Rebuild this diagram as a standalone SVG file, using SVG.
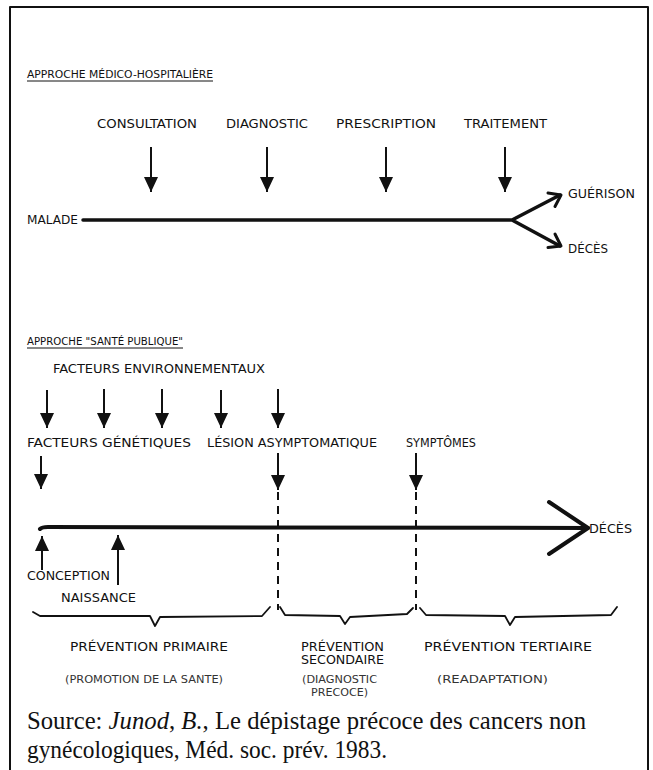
<svg xmlns="http://www.w3.org/2000/svg" width="653" height="770" viewBox="0 0 653 770">
<style>
.t{font-family:"DejaVu Sans Condensed","DejaVu Sans",sans-serif;font-size:11.5px;fill:#111}
.h{font-family:"DejaVu Sans Condensed","DejaVu Sans",sans-serif;font-size:10.5px;fill:#111}
.g{font-family:"DejaVu Sans Condensed","DejaVu Sans",sans-serif;font-size:10.5px;fill:#333}
.s{font-family:"Liberation Serif","Times New Roman",serif;font-size:24.5px;fill:#111}
.ln{stroke:#111;fill:none;stroke-linecap:round;stroke-linejoin:round}
.ar{stroke:#111;stroke-width:2;fill:none}
.ds{stroke:#111;stroke-width:2;fill:none;stroke-dasharray:8 6}
.ul{stroke:#111;stroke-width:1}
</style>
<defs>
<marker id="ah" markerUnits="userSpaceOnUse" markerWidth="15" markerHeight="15" viewBox="0 -7.5 15 15" refX="15" refY="0" orient="auto">
<path d="M0,-7 L15,0 L0,7 Z" fill="#111"/>
</marker>
</defs>
<rect width="653" height="770" fill="#fff"/>
<g id="frame" class="ln" stroke-width="2">
<path d="M10 770 L10 7 L648 7 L648 770"/>
</g>

<g id="heading1">
<text class="h" x="27" y="78" textLength="186" lengthAdjust="spacingAndGlyphs">APPROCHE MÉDICO-HOSPITALIÈRE</text>
<line class="ul" x1="27" y1="81" x2="213" y2="81"/>
</g>
<g id="consultation"><text class="t" x="97" y="128" textLength="100" lengthAdjust="spacingAndGlyphs">CONSULTATION</text></g>
<g id="diagnostic"><text class="t" x="226" y="128" textLength="82" lengthAdjust="spacingAndGlyphs">DIAGNOSTIC</text></g>
<g id="prescription"><text class="t" x="336" y="128" textLength="100" lengthAdjust="spacingAndGlyphs">PRESCRIPTION</text></g>
<g id="traitement"><text class="t" x="464" y="128" textLength="83" lengthAdjust="spacingAndGlyphs">TRAITEMENT</text></g>
<g id="malade"><text class="t" x="27" y="224" textLength="51" lengthAdjust="spacingAndGlyphs">MALADE</text></g>
<g id="guerison"><text class="t" x="568" y="198" textLength="67" lengthAdjust="spacingAndGlyphs">GUÉRISON</text></g>
<g id="deces1"><text class="t" x="568" y="253" textLength="40" lengthAdjust="spacingAndGlyphs">DÉCÈS</text></g>

<g id="heading2">
<text class="h" x="27" y="345" textLength="156" lengthAdjust="spacingAndGlyphs">APPROCHE "SANTÉ PUBLIQUE"</text>
<line class="ul" x1="27" y1="348" x2="183" y2="348"/>
</g>
<g id="env"><text class="t" x="53" y="373" textLength="212" lengthAdjust="spacingAndGlyphs">FACTEURS ENVIRONNEMENTAUX</text></g>
<g id="genetiques"><text class="t" x="27" y="447" textLength="164" lengthAdjust="spacingAndGlyphs">FACTEURS GÉNÉTIQUES</text></g>
<g id="lesion"><text class="t" x="207" y="447" textLength="170" lengthAdjust="spacingAndGlyphs">LÉSION ASYMPTOMATIQUE</text></g>
<g id="symptomes"><text class="t" x="406" y="447" textLength="70" lengthAdjust="spacingAndGlyphs">SYMPTÔMES</text></g>
<g id="deces2"><text class="t" x="589" y="533" textLength="43" lengthAdjust="spacingAndGlyphs">DÉCÈS</text></g>
<g id="conception"><text class="t" x="27" y="580" textLength="83" lengthAdjust="spacingAndGlyphs">CONCEPTION</text></g>
<g id="naissance"><text class="t" x="61" y="602" textLength="75" lengthAdjust="spacingAndGlyphs">NAISSANCE</text></g>

<g id="prim">
<text class="t" x="70" y="651" textLength="158" lengthAdjust="spacingAndGlyphs">PRÉVENTION PRIMAIRE</text>
<text class="g" x="65" y="683" textLength="158" lengthAdjust="spacingAndGlyphs">(PROMOTION DE LA SANTE)</text>
</g>
<g id="sec">
<text class="t" x="301" y="651" textLength="83" lengthAdjust="spacingAndGlyphs">PRÉVENTION</text>
<text class="t" x="301" y="664" textLength="83" lengthAdjust="spacingAndGlyphs">SECONDAIRE</text>
<text class="g" x="302" y="683" textLength="75" lengthAdjust="spacingAndGlyphs">(DIAGNOSTIC</text>
<text class="g" x="311" y="696" textLength="57" lengthAdjust="spacingAndGlyphs">PRECOCE)</text>
</g>
<g id="tert">
<text class="t" x="424" y="651" textLength="168" lengthAdjust="spacingAndGlyphs">PRÉVENTION TERTIAIRE</text>
<text class="g" x="437" y="683" textLength="111" lengthAdjust="spacingAndGlyphs">(READAPTATION)</text>
</g>
<g id="source">
<text class="s" x="27" y="729" textLength="559" lengthAdjust="spacingAndGlyphs">Source: <tspan font-style="italic">Junod</tspan>, <tspan font-style="italic">B.</tspan>, Le dépistage précoce des cancers non</text>
<text class="s" x="27" y="758" textLength="360" lengthAdjust="spacingAndGlyphs">gynécologiques, Méd. soc. prév. 1983.</text>
</g>

<g id="connectors">
<g class="ar" marker-end="url(#ah)">
<line x1="151" y1="147" x2="151" y2="192"/>
<line x1="267" y1="147" x2="267" y2="192"/>
<line x1="386" y1="147" x2="386" y2="192"/>
<line x1="505" y1="147" x2="505" y2="192"/>
<line x1="47" y1="390" x2="47" y2="428"/>
<line x1="104" y1="389" x2="104" y2="428"/>
<line x1="162" y1="389" x2="162" y2="428"/>
<line x1="221" y1="390" x2="221" y2="428"/>
<line x1="278" y1="389" x2="278" y2="428"/>
<line x1="41" y1="456" x2="41" y2="489"/>
<line x1="278" y1="453" x2="278" y2="490"/>
<line x1="416" y1="453" x2="416" y2="490"/>
<line x1="42" y1="570" x2="42" y2="536"/>
<line x1="118" y1="585" x2="118" y2="535"/>
</g>
<line class="ds" x1="278" y1="492" x2="278" y2="610"/>
<line class="ds" x1="416" y1="492" x2="416" y2="610"/>
<path class="ln" stroke-width="3.5" d="M83 220 L512 220 L560 195 M512 220 L560 246"/>
<path class="ln" stroke-width="3" d="M548 193 L561 195 L555 206.5 M555 234 L561 246 L548 247.6"/>
<path class="ln" stroke-width="4" d="M40 529 Q42 527 48 527 L588 528"/>
<path class="ln" stroke-width="4" d="M549 502 L588 528 L549 554"/>
<path class="ln" stroke-width="1.8" d="M33 612 L40 616 L150 616 L155 626 L160 617 L262 616 L270 607"/>
<path class="ln" stroke-width="1.8" d="M280 607 L285 615 L340 616 L345 624 L350 617 L407 614 L413 608"/>
<path class="ln" stroke-width="1.8" d="M420 608 L426 615 L505 616 L510 625 L515 617 L611 615 L617 607"/>
</g>
</svg>
